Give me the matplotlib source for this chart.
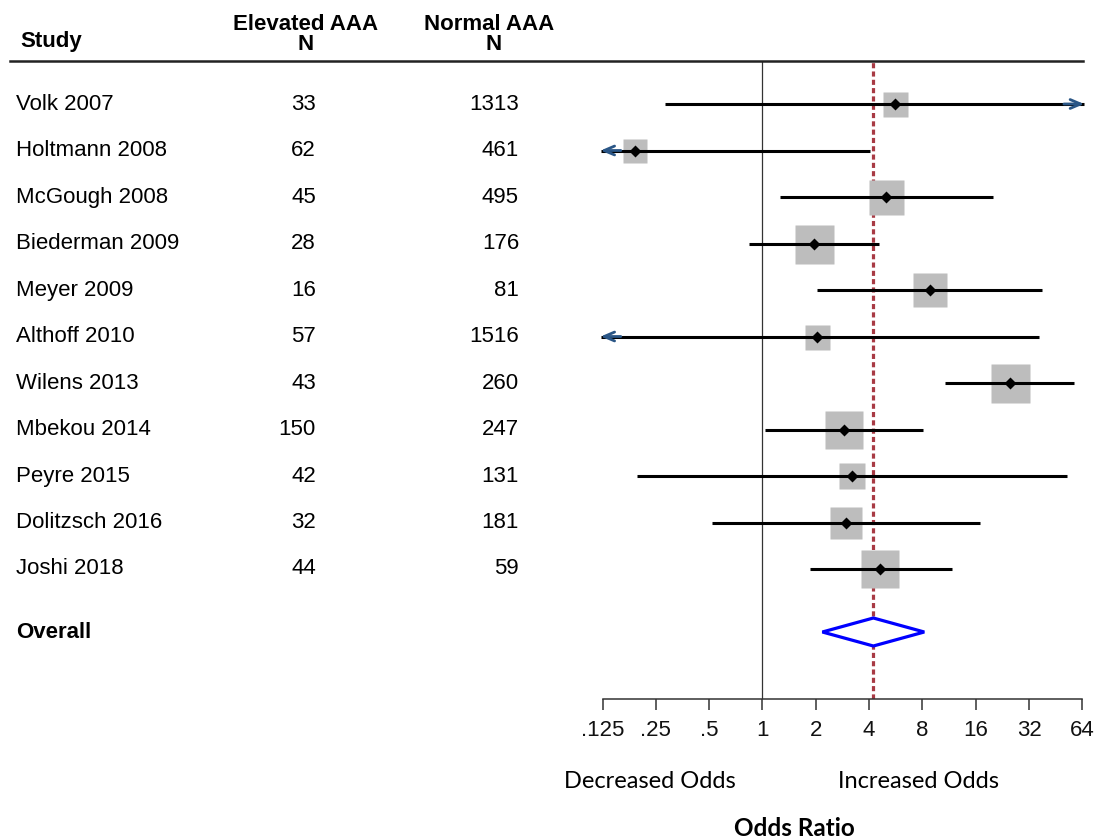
import numpy as np
import matplotlib
matplotlib.use("Agg")
import matplotlib.pyplot as plt
import matplotlib.transforms as mtransforms

# ---------------- data ----------------
studies = ["Volk 2007", "Holtmann 2008", "McGough 2008", "Biederman 2009", "Meyer 2009",
           "Althoff 2010", "Wilens 2013", "Mbekou 2014", "Peyre 2015", "Dolitzsch 2016", "Joshi 2018"]
n_elevated = [33, 62, 45, 28, 16, 57, 43, 150, 42, 32, 44]
n_normal = [1313, 461, 495, 176, 81, 1516, 260, 247, 131, 181, 59]
odds_ratio = [5.6, 0.19, 5.0, 1.96, 8.8, 2.03, 24.9, 2.87, 3.2, 2.96, 4.64]
ci_low = [0.28, 0.06, 1.25, 0.84, 2.04, 0.08, 10.8, 1.03, 0.195, 0.52, 1.85]
ci_high = [110.0, 4.04, 20.0, 4.56, 37.8, 36.5, 57.8, 8.1, 52.4, 17.0, 11.7]
weights = [25, 24, 35, 39, 34, 25, 39, 38, 26, 32, 38]   # relative study weights
overall_or = 4.23
overall_low = 2.18
overall_high = 8.2
tick_values = [0.125, 0.25, 0.5, 1, 2, 4, 8, 16, 32, 64]
tick_labels = [".125", ".25", ".5", "1", "2", "4", "8", "16", "32", "64"]

# ---------------- figure ----------------
W, H = 1096, 840
fig = plt.figure(figsize=(W / 100, H / 100), dpi=100)
fig.patch.set_facecolor("white")

tab_font = ["Liberation Sans", "DejaVu Sans"]
lab_font = ["Lato", "DejaVu Sans"]
fs = 16

# axes geometry (pixels)
px_per_dbl = 53.3
x_lo_exp, x_hi_exp = -3.5, 6.2
L = 602.5 + (x_lo_exp + 3) * px_per_dbl
R = 1082.3 + (x_hi_exp - 6) * px_per_dbl
top_px, bot_px = 61, 699
ax = fig.add_axes([L / W, 1 - bot_px / H, (R - L) / W, (bot_px - top_px) / H])
ax.set_xscale("log", base=2)
ax.set_xlim(2 ** x_lo_exp, 2 ** x_hi_exp)

row_y = np.arange(len(studies), dtype=float)
row_gap = 46.5
overall_y = row_y[-1] + 63 / row_gap
ax.set_ylim((bot_px - 104) / row_gap, (top_px - 104) / row_gap)

for s in ["top", "right", "left"]:
    ax.spines[s].set_visible(False)
ax.spines["bottom"].set_bounds(tick_values[0], tick_values[-1])
ax.spines["bottom"].set_color("#333333")
ax.spines["bottom"].set_linewidth(1.1)
ax.set_yticks([])
ax.set_xticks(tick_values)
ax.set_xticklabels(tick_labels)
ax.minorticks_off()
ax.tick_params(axis="x", direction="out", length=8, width=1.1, color="#333333", pad=7,
               labelsize=fs, labelcolor="#111111")
for lab in ax.get_xticklabels():
    lab.set_family(tab_font)

# reference lines
ax.axvline(1, color="#333333", lw=0.9, zorder=1)
ax.axvline(overall_or, color="#a83a44", lw=2.3, linestyle=(0, (1.6, 1.0)), zorder=2)

clip_lo, clip_hi = 0.122, 65.5
arrow_col = "#2a5686"
for y, o, lo, hi, w in zip(row_y, odds_ratio, ci_low, ci_high, weights):
    a, b = max(lo, clip_lo), min(hi, clip_hi)
    ax.plot([a, b], [y, y], color="black", lw=2.2, solid_capstyle="butt", zorder=3)
    if lo < clip_lo:
        ax.annotate("", xy=(clip_lo, y), xytext=(clip_lo * 1.3, y),
                    arrowprops=dict(arrowstyle="->,head_length=0.75,head_width=0.32",
                                    color=arrow_col, lw=2.0, shrinkA=0, shrinkB=0), zorder=4)
    if hi > clip_hi:
        ax.annotate("", xy=(clip_hi, y), xytext=(clip_hi / 1.3, y),
                    arrowprops=dict(arrowstyle="->,head_length=0.75,head_width=0.32",
                                    color=arrow_col, lw=2.0, shrinkA=0, shrinkB=0), zorder=4)
    ax.plot([o], [y], marker="s", ms=w * 0.72, color="#bdbdbd", mec="none", zorder=2.5)
    ax.plot([o], [y], marker="D", ms=6.3, color="black", mec="none", zorder=5)

# overall diamond
dh = 14 / row_gap
ax.fill([overall_low, overall_or, overall_high, overall_or],
        [overall_y, overall_y - dh, overall_y, overall_y + dh],
        facecolor="white", edgecolor="#0000ff", lw=2.3, zorder=6)

# ---------------- table text ----------------
tr = mtransforms.blended_transform_factory(fig.transFigure, ax.transData)
for y, name, ne, nn in zip(row_y, studies, n_elevated, n_normal):
    fig.text(16 / W, y, name, transform=tr, ha="left", va="center", fontsize=fs, family=tab_font)
    fig.text(316 / W, y, str(ne), transform=tr, ha="right", va="center", fontsize=fs, family=tab_font)
    fig.text(519 / W, y, str(nn), transform=tr, ha="right", va="center", fontsize=fs, family=tab_font)
fig.text(16 / W, overall_y, "Overall", transform=tr, ha="left", va="center", fontsize=fs,
         fontweight="bold", family=tab_font)

# headers
fig.text(20 / W, 1 - 42 / H, "Study", ha="left", va="center", fontsize=fs, fontweight="bold", family=tab_font)
fig.text(306 / W, 1 - 25 / H, "Elevated AAA", ha="center", va="center", fontsize=fs, fontweight="bold", family=tab_font)
fig.text(306 / W, 1 - 45 / H, "N", ha="center", va="center", fontsize=fs, fontweight="bold", family=tab_font)
fig.text(489 / W, 1 - 25 / H, "Normal AAA", ha="center", va="center", fontsize=fs, fontweight="bold", family=tab_font)
fig.text(494 / W, 1 - 45 / H, "N", ha="center", va="center", fontsize=fs, fontweight="bold", family=tab_font)
fig.add_artist(plt.Line2D([10 / W, 1083 / W], [1 - 61 / H, 1 - 61 / H], color="#222222", lw=1.8))

# bottom labels
fig.text(650 / W, 1 - 781 / H, "Decreased Odds", ha="center", va="center", fontsize=17, family=lab_font)
fig.text(919 / W, 1 - 781 / H, "Increased Odds", ha="center", va="center", fontsize=17, family=lab_font)
fig.text(794 / W, 1 - 828 / H, "Odds Ratio", ha="center", va="center", fontsize=17.5, fontweight="bold", family=lab_font)

fig.savefig("out.png", dpi=100, facecolor="white")
